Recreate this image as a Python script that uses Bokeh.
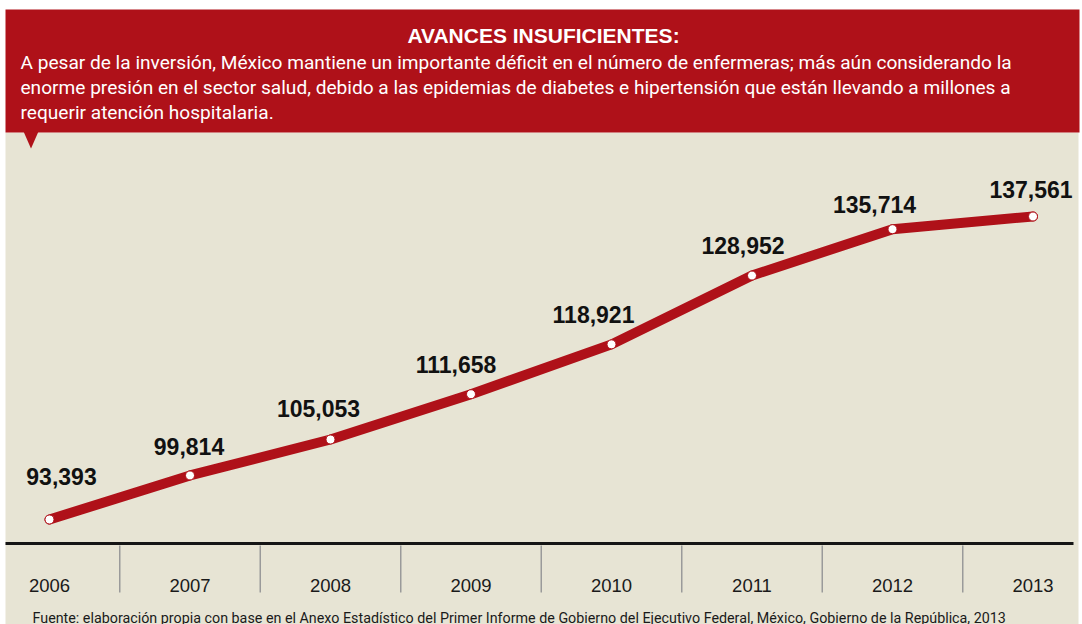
from bokeh.plotting import figure
from bokeh.models import Range1d
from bokeh.core.properties import value
from bokeh.embed import file_html
from bokeh.resources import INLINE

# ---- data ----
years = [2006, 2007, 2008, 2009, 2010, 2011, 2012, 2013]
nurses = [93393, 99814, 105053, 111658, 118921, 128952, 135714, 137561]
year_labels = [str(y) for y in years]
value_labels = ["93,393", "99,814", "105,053", "111,658", "118,921", "128,952", "135,714", "137,561"]
title = "AVANCES INSUFICIENTES:"
body_lines = [
    "A pesar de la inversión, México mantiene un importante déficit en el número de enfermeras; más aún considerando la",
    "enorme presión en el sector salud, debido a las epidemias de diabetes e hipertensión que están llevando a millones a",
    "requerir atención hospitalaria.",
]
source = ("Fuente: elaboración propia con base en el Anexo Estadístico del Primer Informe de Gobierno "
          "del Ejecutivo Federal, México, Gobierno de la República, 2013")

# ---- styling / layout ----
W, H = 1082, 624
RED = "#AF1119"
BEIGE = "#E7E4D4"
BODY_FONT = "Roboto"
WIDE = "Liberation Sans"

px_per_year = 140.5
x_first_px = 49.0
x0 = years[0] - x_first_px / px_per_year
x1 = x0 + W / px_per_year

# vertical scale: first point at px 519, last at px 216
k = (519 - 216) / (nurses[-1] - nurses[0])
y_top = nurses[0] + 519 / k
y_bot = y_top - H / k


def X(px):
    return x0 + px / px_per_year


def Y(py):
    return y_top - py / k


p = figure(width=W, height=H, output_backend="svg", toolbar_location=None,
           x_range=Range1d(x0, x1), y_range=Range1d(y_bot, y_top),
           x_axis_location=None, y_axis_location=None, min_border=0,
           background_fill_color="white", border_fill_color="white",
           outline_line_color=None)
p.xgrid.visible = False
p.ygrid.visible = False

# background panels
p.quad(left=[X(5)], right=[X(1078)], top=[Y(132)], bottom=[Y(H)], fill_color=BEIGE, line_color=None)
p.quad(left=[X(5)], right=[X(1079)], top=[Y(9)], bottom=[Y(132)], fill_color=RED, line_color=None)
p.patch([X(23), X(38), X(30.5)], [Y(131), Y(131), Y(148)], fill_color=RED, line_color=None)

# baseline and separators
p.segment(x0=[X(5)], x1=[X(1073)], y0=[Y(543)], y1=[Y(543)], line_color="#151515", line_width=3)
seps = [y + 0.5 for y in years[:-1]]
p.segment(x0=seps, x1=seps, y0=[Y(545)] * len(seps), y1=[Y(592)] * len(seps),
          line_color="#9a9a9a", line_width=1.5)

# main line and markers
p.line(years, nurses, line_color=RED, line_width=10, line_cap="round", line_join="round")
p.scatter(years, nurses, size=9, fill_color="white", line_color=RED, line_width=1)

# value labels (hand-placed offsets in screen pixels, as in the original)
label_dx = [12, -1, -12, -15, -18, -9, -18, -2]
label_dy = [-43, -29, -31, -30, -30, -30, -25, -27]
p.text(x=years, y=nurses, text=value_labels, x_offset=label_dx, y_offset=label_dy,
       text_align="center", text_baseline="middle", text_font=value(WIDE),
       text_font_style="bold", text_font_size="23px", text_color="#111111")

# year labels
p.text(x=years, y=[Y(585)] * len(years), text=year_labels, text_align="center",
       text_baseline="alphabetic", text_font=value(WIDE), text_font_size="18.5px",
       text_color="#1a1a1a")

# header
p.text(x=[X(543)], y=[Y(35)], text=[title], text_align="center", text_baseline="alphabetic",
       text_font=value(WIDE), text_font_style="bold", text_font_size="21px", text_color="white")
p.text(x=[X(20)] * 3, y=[Y(62), Y(87), Y(112)], text=body_lines, text_align="left",
       text_baseline="alphabetic", text_font=value(BODY_FONT), text_font_size="19.1px",
       text_color="white")

# source
p.text(x=[X(32)], y=[Y(617)], text=[source], text_align="left", text_baseline="alphabetic",
       text_font=value(BODY_FONT), text_font_size="14.3px", text_color="#1a1a1a")

open("out.html", "w").write(file_html(p, INLINE))
